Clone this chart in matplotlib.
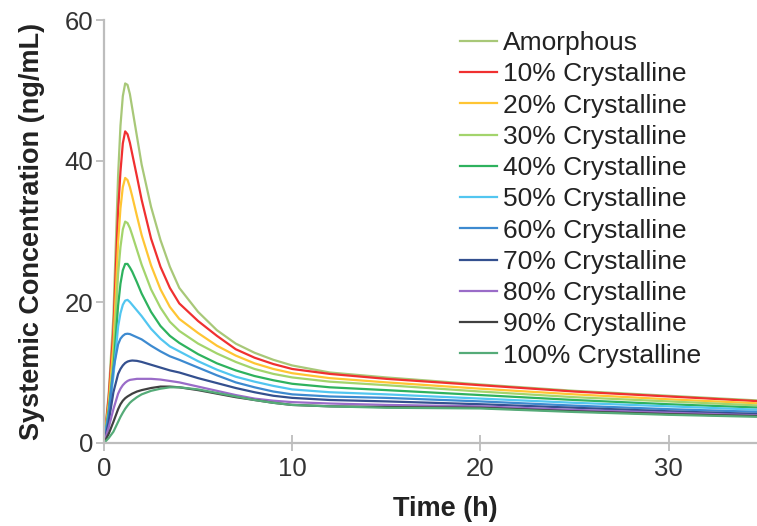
import matplotlib
matplotlib.use('Agg')
import matplotlib.pyplot as plt

plt.rcParams['font.family'] = ['Liberation Sans', 'DejaVu Sans']

# time points (h)
time_h = [0, 0.25, 0.5, 0.75, 0.875, 1.0, 1.125, 1.25, 1.375, 1.5, 1.75, 2, 2.5, 3, 3.5, 4,
          5, 6, 7, 8, 9, 10, 12, 15, 20, 25, 30, 35]

# systemic concentration (ng/mL)
amorphous = [0, 7, 18, 38, 45, 49.2, 51.0, 50.8, 49.5, 47.5, 43.5, 39.5, 33.5, 28.8, 25.0, 22.0,
             18.6, 16.0, 14.1, 12.8, 11.8, 11.0, 10.0, 9.3, 8.3, 7.4, 6.7, 6.0]
cryst_10 = [0, 6.5, 16, 33, 38.5, 42.5, 44.2, 43.8, 42.6, 41.0, 37.8, 34.5, 29.0, 25.0, 22.0, 19.8,
            17.3, 15.2, 13.3, 12.1, 11.2, 10.5, 9.8, 9.1, 8.2, 7.3, 6.6, 5.9]
cryst_20 = [0, 5.5, 14, 28.5, 33.3, 36.3, 37.6, 37.3, 36.3, 35.0, 32.2, 29.5, 25.2, 21.8, 19.3, 17.6,
            15.6, 13.8, 12.4, 11.3, 10.5, 9.9, 9.2, 8.6, 7.7, 6.9, 6.2, 5.6]
cryst_30 = [0, 5, 12, 24, 27.8, 30.3, 31.4, 31.2, 30.5, 29.5, 27.4, 25.3, 21.8, 19.2, 17.2, 15.9,
            14.1, 12.7, 11.5, 10.5, 9.8, 9.3, 8.7, 8.2, 7.3, 6.5, 5.9, 5.3]
cryst_40 = [0, 4.5, 10.5, 19.5, 22.6, 24.5, 25.4, 25.4, 24.9, 24.3, 22.8, 21.2, 18.6, 16.6, 15.2, 14.2,
            12.6, 11.3, 10.3, 9.5, 8.9, 8.4, 7.9, 7.5, 6.8, 6.1, 5.5, 5.0]
cryst_50 = [0, 4, 9.5, 16.5, 18.4, 19.6, 20.2, 20.3, 20.0, 19.6, 18.8, 18.0, 16.2, 14.8, 13.7, 13.0,
            11.6, 10.4, 9.4, 8.7, 8.1, 7.6, 7.2, 6.9, 6.3, 5.7, 5.2, 4.7]
cryst_60 = [0, 4, 10.5, 14.0, 14.8, 15.2, 15.45, 15.5, 15.45, 15.3, 15.0, 14.7, 13.8, 13.0, 12.3, 11.8,
            10.7, 9.6, 8.6, 7.9, 7.3, 6.9, 6.6, 6.4, 5.9, 5.3, 4.8, 4.4]
cryst_70 = [0, 3, 7.2, 9.8, 10.5, 11.0, 11.35, 11.55, 11.65, 11.7, 11.65, 11.5, 11.1, 10.7, 10.3, 10.0,
            9.2, 8.5, 7.8, 7.2, 6.7, 6.4, 6.1, 5.9, 5.5, 5.0, 4.5, 4.1]
cryst_80 = [0, 2.2, 4.8, 7.0, 7.7, 8.2, 8.55, 8.8, 8.95, 9.0, 9.1, 9.1, 9.1, 9.0, 8.8, 8.6,
            8.0, 7.4, 6.8, 6.3, 6.0, 5.8, 5.6, 5.4, 5.2, 4.7, 4.3, 3.9]
cryst_90 = [0, 1.3, 3.0, 4.8, 5.5, 6.0, 6.35, 6.6, 6.8, 7.0, 7.3, 7.5, 7.8, 8.0, 8.0, 7.9,
            7.5, 7.0, 6.5, 6.1, 5.7, 5.4, 5.2, 5.1, 5.0, 4.5, 4.1, 3.8]
cryst_100 = [0, 0.7, 1.6, 3.0, 3.7, 4.3, 4.85, 5.3, 5.7, 6.0, 6.5, 6.9, 7.4, 7.7, 7.9, 7.9,
             7.6, 7.1, 6.6, 6.1, 5.7, 5.4, 5.2, 5.0, 4.9, 4.4, 4.0, 3.7]

series = [amorphous, cryst_10, cryst_20, cryst_30, cryst_40, cryst_50,
          cryst_60, cryst_70, cryst_80, cryst_90, cryst_100]
labels = ['Amorphous'] + ['%d%% Crystalline' % p for p in range(10, 101, 10)]
colors = ['#a8c878', '#f03030', '#ffc533', '#a3d46c', '#2eb25e', '#52c6f0',
          '#3d8ad0', '#34508f', '#9a6cc8', '#404040', '#55ab78']

fig = plt.figure(figsize=(7.57, 5.26), dpi=100)
ax = fig.add_axes([104 / 757, 83 / 526, 653 / 757, 423 / 526])

for y, lab, c in zip(series, labels, colors):
    ax.plot(time_h, y, color=c, lw=1.6, label=lab)

ax.set_xlim(0, 34.7)
ax.set_ylim(0, 60)
ax.set_xticks([0, 10, 20, 30])
ax.set_yticks([0, 20, 40, 60])

for s in ['top', 'right']:
    ax.spines[s].set_visible(False)
for s in ['left', 'bottom']:
    ax.spines[s].set_color('#bdbdbd')
    ax.spines[s].set_linewidth(1.6)

ax.tick_params(axis='y', direction='out', length=6, width=1.3, color='#bdbdbd',
               labelsize=18.5, labelcolor='#333333', pad=2)
ax.tick_params(axis='x', direction='inout', length=12, width=1.3, color='#bdbdbd',
               labelsize=18.5, labelcolor='#333333', pad=4)

ax.set_xlabel('Time (h)', fontsize=19.5, fontweight='bold', color='#222222')
ax.set_ylabel('Systemic Concentration (ng/mL)', fontsize=19.5, fontweight='bold',
              color='#222222')
ax.xaxis.set_label_coords(0.522, -0.126)
ax.yaxis.set_label_coords(-0.090, 0.5)

leg = fig.legend(loc='upper left', bbox_to_anchor=(460 / 757, 1 - 31 / 526), frameon=False,
                 fontsize=19, handlelength=1.4, handletextpad=0.22,
                 labelspacing=0.275, borderpad=0, borderaxespad=0)
for t in leg.get_texts():
    t.set_color('#222222')

fig.savefig('out.png', dpi=100)
